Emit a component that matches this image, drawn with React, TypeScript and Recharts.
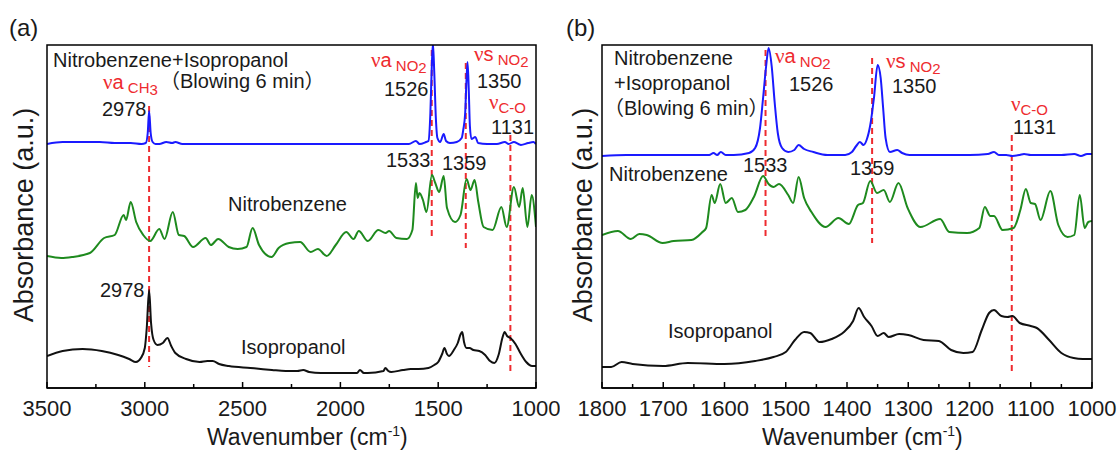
import { LineChart, Line, XAxis, YAxis, ReferenceLine } from "recharts"

type Pt = [number, number] // [wavenumber, absorbance a.u.]

// ---- panel (a): 3500 - 1000 cm-1 ----
const ticksA = [3500, 3250, 3000, 2750, 2500, 2250, 2000, 1750, 1500, 1250, 1000]
const majorA = [3500, 3000, 2500, 2000, 1500, 1000]

const mixA: Pt[] = [
  [3500, 244], [3420, 246], [3320, 246], [3230, 246], [3154, 245], [3072, 245], [3017, 244],
  [2995, 245], [2985, 255], [2978, 277], [2970, 255], [2960, 246], [2945, 244], [2926, 244],
  [2890, 246], [2860, 245], [2844, 246], [2808, 244], [2600, 244], [2400, 244], [2200, 244],
  [2000, 244], [1800, 244], [1650, 244], [1614, 247], [1595, 244], [1562, 246], [1550, 247],
  [1540, 275], [1533, 320], [1527, 345], [1520, 315], [1512, 270], [1504, 250], [1490, 246],
  [1472, 254], [1460, 247], [1440, 245], [1405, 246], [1380, 250], [1372, 258], [1362, 275],
  [1356, 305], [1350, 326], [1344, 300], [1338, 262], [1330, 249], [1310, 251], [1296, 245],
  [1250, 244], [1200, 244], [1159, 246], [1140, 244], [1113, 246], [1090, 244], [1077, 243],
  [1040, 245], [1013, 246], [1000, 244],
]

const nitroA: Pt[] = [
  [3500, 132], [3427, 130], [3372, 131], [3281, 135], [3208, 150], [3154, 153], [3108, 173],
  [3096, 168], [3072, 186], [3044, 166], [3008, 153], [2972, 147], [2926, 159], [2899, 149],
  [2857, 176], [2826, 153], [2799, 152], [2753, 141], [2689, 150], [2662, 143], [2625, 149],
  [2571, 141], [2525, 139], [2480, 141], [2449, 160], [2416, 143], [2352, 131], [2316, 140],
  [2261, 145], [2206, 146], [2152, 136], [2115, 139], [2070, 132], [2024, 143], [1970, 156],
  [1933, 149], [1906, 157], [1860, 147], [1806, 158], [1769, 155], [1751, 157], [1714, 150],
  [1660, 149], [1632, 158], [1614, 205], [1605, 190], [1596, 195], [1578, 188], [1560, 176],
  [1532, 213], [1515, 205], [1495, 196], [1472, 212], [1455, 180], [1414, 166], [1386, 173],
  [1355, 209], [1335, 198], [1314, 208], [1295, 186], [1268, 161], [1222, 158], [1177, 181],
  [1150, 161], [1113, 201], [1086, 181], [1068, 200], [1044, 161], [1022, 193], [1000, 161],
]

const ipaA: Pt[] = [
  [3500, 32], [3420, 37], [3318, 39], [3220, 37], [3136, 33], [3080, 29], [3045, 26], [3020, 30],
  [3000, 40], [2990, 60], [2978, 98], [2968, 65], [2955, 48], [2935, 43], [2908, 45], [2884, 50],
  [2865, 42], [2844, 35], [2789, 29], [2720, 26], [2680, 27], [2653, 27], [2620, 24], [2570, 22],
  [2460, 20], [2407, 19], [2350, 18], [2280, 17], [2220, 17], [2190, 18], [2160, 16], [2100, 15],
  [2000, 15], [1915, 15], [1900, 18], [1880, 15], [1860, 15], [1780, 17], [1770, 20], [1755, 17],
  [1740, 16], [1680, 18], [1640, 19], [1600, 19], [1550, 20], [1520, 23], [1500, 26], [1480, 34],
  [1468, 40], [1455, 34], [1445, 32], [1420, 38], [1400, 45], [1385, 54], [1377, 56], [1368, 46],
  [1355, 40], [1340, 40], [1320, 38], [1290, 37], [1260, 33], [1235, 27], [1213, 25], [1190, 34],
  [1172, 50], [1160, 56], [1148, 52], [1131, 50], [1105, 44], [1080, 35], [1050, 26], [1020, 22],
  [1000, 22],
]

// dashed guide lines: [wavenumber, top, bottom]
const marksA: [number, number, number][] = [
  [2978, 282, 21], [1533, 338, 148], [1359, 325, 140], [1131, 253, 15],
]

// ---- panel (b): 1800 - 1000 cm-1 ----
const ticksB = [1800, 1750, 1700, 1650, 1600, 1550, 1500, 1450, 1400, 1350, 1300, 1250, 1200, 1150, 1100, 1050, 1000]
const majorB = [1800, 1700, 1600, 1500, 1400, 1300, 1200, 1100, 1000]

const mixB: Pt[] = [
  [1800, 232], [1760, 233], [1700, 233], [1650, 233], [1625, 233], [1618, 235], [1612, 233],
  [1606, 236], [1598, 233], [1585, 233], [1560, 235], [1550, 240], [1542, 260], [1537, 290],
  [1532, 322], [1528, 340], [1523, 322], [1518, 285], [1513, 255], [1506, 240], [1496, 236],
  [1486, 238], [1479, 243], [1470, 239], [1455, 236], [1432, 233], [1403, 233], [1392, 236],
  [1385, 242], [1379, 246], [1373, 243], [1368, 248], [1362, 263], [1356, 290], [1350, 323],
  [1345, 310], [1341, 280], [1337, 250], [1330, 236], [1318, 238], [1310, 235], [1298, 233],
  [1250, 233], [1200, 233], [1170, 234], [1160, 236], [1152, 233], [1140, 233], [1130, 232],
  [1118, 233], [1111, 234], [1100, 233], [1050, 233], [1029, 234], [1018, 232], [1008, 234],
  [1000, 234],
]

const nitroB: Pt[] = [
  [1800, 153], [1774, 157], [1753, 149], [1739, 154], [1727, 153], [1701, 145], [1683, 147],
  [1654, 148], [1636, 156], [1630, 160], [1621, 193], [1616, 185], [1607, 204], [1598, 185],
  [1588, 190], [1578, 176], [1566, 178], [1552, 191], [1537, 212], [1528, 204], [1520, 201],
  [1511, 204], [1496, 193], [1488, 185], [1479, 211], [1470, 190], [1458, 176], [1435, 161],
  [1414, 170], [1397, 164], [1382, 183], [1374, 185], [1362, 207], [1351, 195], [1340, 198],
  [1330, 186], [1316, 205], [1301, 180], [1280, 161], [1248, 169], [1233, 156], [1204, 155],
  [1184, 160], [1175, 181], [1166, 172], [1160, 172], [1146, 158], [1128, 160], [1117, 178],
  [1108, 199], [1100, 185], [1093, 184], [1084, 168], [1068, 197], [1055, 163], [1040, 151],
  [1029, 153], [1020, 193], [1012, 160], [1006, 166], [1000, 167],
]

const ipaB: Pt[] = [
  [1800, 21], [1785, 21], [1768, 26], [1750, 24], [1700, 22], [1660, 25], [1600, 24], [1550, 27],
  [1520, 31], [1500, 36], [1485, 48], [1470, 56], [1460, 55], [1445, 46], [1425, 49], [1405, 56],
  [1390, 67], [1381, 80], [1372, 71], [1360, 62], [1350, 52], [1340, 55], [1332, 51], [1315, 54],
  [1300, 53], [1275, 48], [1250, 47], [1230, 38], [1210, 35], [1195, 36], [1180, 58], [1168, 75],
  [1160, 78], [1148, 72], [1138, 71], [1130, 72], [1118, 65], [1100, 62], [1090, 60], [1070, 48],
  [1050, 35], [1030, 30], [1015, 29], [1000, 29],
]

const marksB: [number, number, number][] = [
  [1533, 338, 148], [1359, 330, 145], [1131, 253, 14],
]

const FONT = "'Liberation Sans', Arial, 'Noto Sans CJK SC', sans-serif"
const RED = "#ee2b2f"
const INK = "#1a1a1a"
const TOP = 45
const BOTTOM = 388

const rows = (pts: Pt[]) => pts.map(([wn, a]) => ({ wn, a }))

function makeTick(major: number[]) {
  return function Tick(props: any) {
    const { x, y, payload } = props
    const isMajor = major.includes(payload.value)
    return (
      <g>
        <line x1={x} x2={x} y1={y} y2={y - (isMajor ? 6 : 4)} stroke="#000" strokeWidth={1.5} />
        {isMajor && (
          <text x={x} y={y + 28} textAnchor="middle" fontSize={22} fill={INK} fontFamily={FONT}>
            {payload.value}
          </text>
        )}
      </g>
    )
  }
}

interface PanelProps {
  left: number
  plotLeft: number
  plotRight: number
  domain: [number, number]
  ticks: number[]
  major: number[]
  mix: Pt[]
  nitro: Pt[]
  ipa: Pt[]
  marks: [number, number, number][]
}

function Panel({ left, plotLeft, plotRight, domain, ticks, major, mix, nitro, ipa, marks }: PanelProps) {
  const Tick = makeTick(major)
  return (
    <div style={{ position: "absolute", left, top: 0 }}>
      <LineChart
        width={560}
        height={459}
        margin={{ top: TOP, right: 560 - plotRight, bottom: 0, left: plotLeft }}
      >
        <XAxis
          dataKey="wn"
          type="number"
          domain={domain}
          reversed
          allowDataOverflow
          ticks={ticks}
          interval={0}
          height={459 - BOTTOM}
          tickSize={0}
          tickMargin={0}
          tickLine={false}
          tick={<Tick />}
          axisLine={{ stroke: "#000", strokeWidth: 1.5 }}
        />
        <YAxis hide type="number" domain={[0, BOTTOM - TOP]} allowDataOverflow />
        {marks.map(([wn, y1, y2]) => (
          <ReferenceLine
            key={wn}
            segment={[{ x: wn, y: y1 }, { x: wn, y: y2 }]}
            stroke={RED}
            strokeWidth={2}
            strokeDasharray="6 4"
          />
        ))}
        <Line data={rows(ipa)} dataKey="a" type="monotone" stroke="#111" strokeWidth={2} dot={false} isAnimationActive={false} />
        <Line data={rows(nitro)} dataKey="a" type="monotone" stroke="#1e8a1e" strokeWidth={2} dot={false} isAnimationActive={false} />
        <Line data={rows(mix)} dataKey="a" type="monotone" stroke="#1a1aff" strokeWidth={2} dot={false} isAnimationActive={false} />
      </LineChart>
    </div>
  )
}

function Nu({ x, y, main, sub, sub2 }: { x: number; y: number; main?: string; sub: string; sub2?: string }) {
  return (
    <text x={x} y={y} fill={RED} fontSize={20}>
      <tspan fontFamily="'Liberation Serif', serif" fontSize={21}>ν</tspan>
      <tspan>{main ?? ""}</tspan>
      <tspan fontSize={15} dy={4}>{sub}</tspan>
      {sub2 && <tspan fontSize={15} dy={2}>{sub2}</tspan>}
    </text>
  )
}

function T({ x, y, children, size = 20 }: { x: number; y: number; children: any; size?: number }) {
  return (
    <text x={x} y={y} fontSize={size} fill={INK}>
      {children}
    </text>
  )
}

function AxisTitles({ dx, ty }: { dx: number; ty: number }) {
  return (
    <g>
      <text x={207 + dx} y={445} fontSize={23} fill={INK}>
        Wavenumber (cm<tspan fontSize={14} dy={-9}>-1</tspan>
        <tspan dy={9}>)</tspan>
      </text>
      <text
        x={ty}
        y={215}
        fontSize={27}
        fill={INK}
        textAnchor="middle"
        dominantBaseline="central"
        transform={`rotate(-90 ${ty} 215)`}
      >
        Absorbance (a.u.)
      </text>
    </g>
  )
}

export default function App() {
  return (
    <div style={{ position: "absolute", left: 0, top: 0, width: 1120, height: 459, background: "#fff", fontFamily: FONT }}>
      <Panel left={0} plotLeft={47} plotRight={536} domain={[1000, 3500]} ticks={ticksA} major={majorA}
        mix={mixA} nitro={nitroA} ipa={ipaA} marks={marksA} />
      <Panel left={560} plotLeft={42} plotRight={532} domain={[1000, 1800]} ticks={ticksB} major={majorB}
        mix={mixB} nitro={nitroB} ipa={ipaB} marks={marksB} />
      <svg width={1120} height={459} style={{ position: "absolute", left: 0, top: 0, pointerEvents: "none", fontFamily: FONT }}>
        <rect x={47} y={TOP} width={489} height={BOTTOM - TOP} fill="none" stroke="#000" strokeWidth={1.5} />
        <rect x={602} y={TOP} width={490} height={BOTTOM - TOP} fill="none" stroke="#000" strokeWidth={1.5} />
        <T x={9} y={36} size={24}>(a)</T>
        <T x={566} y={36} size={24}>(b)</T>
        <AxisTitles dx={0} ty={24} />
        <AxisTitles dx={555} ty={583} />

        {/* panel (a) */}
        <T x={53} y={67}>Nitrobenzene+Isopropanol</T>
        <T x={160} y={88}>（Blowing 6 min）</T>
        <Nu x={103} y={89} main="a" sub=" CH" sub2="3" />
        <T x={102} y={116}>2978</T>
        <Nu x={371} y={67} main="a" sub=" NO" sub2="2" />
        <T x={384} y={96}>1526</T>
        <Nu x={474} y={61} main="s" sub=" NO" sub2="2" />
        <T x={477} y={88}>1350</T>
        <Nu x={489} y={109} sub="C-O" />
        <T x={491} y={134}>1131</T>
        <T x={386} y={167}>1533</T>
        <T x={442} y={170}>1359</T>
        <T x={228} y={211}>Nitrobenzene</T>
        <T x={100} y={297}>2978</T>
        <T x={241} y={354}>Isopropanol</T>

        {/* panel (b) */}
        <T x={614} y={65}>Nitrobenzene</T>
        <T x={614} y={90}>+Isopropanol</T>
        <T x={604} y={115}>（Blowing 6 min）</T>
        <Nu x={775} y={63} main="a" sub=" NO" sub2="2" />
        <T x={789} y={91}>1526</T>
        <Nu x={886} y={68} main="s" sub=" NO" sub2="2" />
        <T x={892} y={93}>1350</T>
        <Nu x={1011} y={111} sub="C-O" />
        <T x={1013} y={134}>1131</T>
        <T x={609} y={181}>Nitrobenzene</T>
        <T x={743} y={172}>1533</T>
        <T x={850} y={175}>1359</T>
        <T x={668} y={338}>Isopropanol</T>
      </svg>
    </div>
  )
}
